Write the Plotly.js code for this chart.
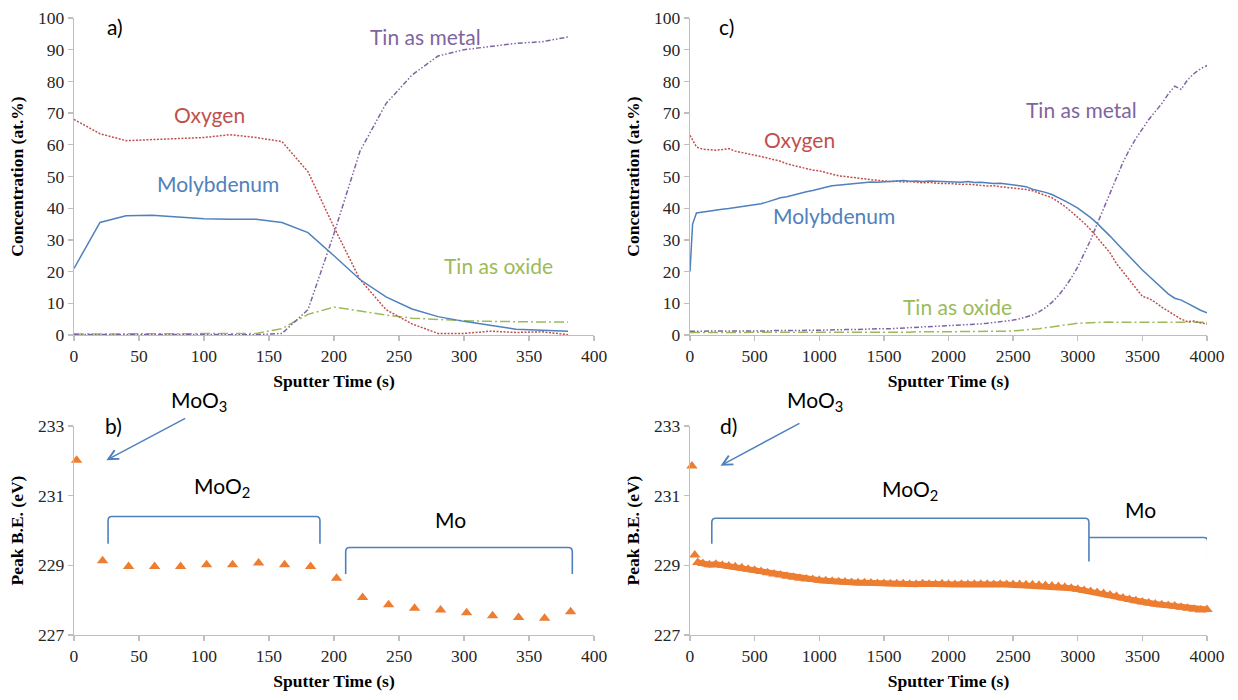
<!DOCTYPE html>
<html>
<head>
<meta charset="utf-8">
<script src="https://cdn.plot.ly/plotly-3.0.1.min.js"></script>
<style>html,body{margin:0;padding:0;background:#fff;}#chart{width:1238px;height:700px;}</style>
</head>
<body>
<div id="chart"></div>
<script>
// ---------- Panel a: short sputter (s) ----------
const timeA = [0,20,40,60,80,100,120,140,160,180,200,220,240,260,280,300,320,340,360,380];
const moA   = [21,35.5,37.6,37.8,37.2,36.7,36.5,36.5,35.5,32.3,25,17.5,12,8.2,5.8,4.3,3.1,1.8,1.5,1.2];
const oxA   = [68,63.5,61.3,61.7,62,62.3,63.2,62.3,61,51.5,34,17.5,8,3.5,0.5,0.5,1.2,0.8,1,0.1];
const snMetalA = [0.2,0.2,0.2,0.2,0.1,0.1,0.1,0.1,0.5,8,32,58,73,82,88,90,91,92,92.5,94];
const snOxideA = [0.3,0.3,0.3,0.3,0.3,0.3,0.3,0.5,2,6.5,8.8,7.5,6.3,5.3,4.8,4.5,4.3,4.1,4.1,4.1];

// ---------- Panel b: peak B.E. (short) ----------
const timeB = [2,22,42,62,82,102,122,142,162,182,202,222,242,262,282,302,322,342,362,382];
const beB   = [232.02,229.13,228.97,228.97,228.97,229.02,229.02,229.07,229.02,228.97,228.63,228.08,227.87,227.77,227.72,227.64,227.55,227.5,227.48,227.67];

// ---------- Panel c: long sputter (s) ----------
const timeC = [0,20,50,100,150,200,250,300,350,400,450,500,550,600,650,700,750,800,850,900,950,1000,1050,1100,1150,1200,1250,1300,1350,1400,1450,1500,1550,1600,1650,1700,1750,1800,1850,1900,1950,2000,2050,2100,2150,2200,2250,2300,2350,2400,2450,2500,2550,2600,2650,2700,2750,2800,2850,2900,2950,3000,3050,3100,3150,3200,3250,3300,3350,3400,3450,3500,3550,3600,3650,3700,3750,3800,3850,3900,3950,4000];
const moC = [20,35,38.5,38.8,39.3,39.4,39.7,39.9,40.2,40.4,40.6,41.0,41.4,42.0,42.6,43.3,43.6,44.2,44.8,45.2,45.6,46.0,46.6,47.1,47.3,47.6,47.9,48.0,48.1,48.3,48.2,48.4,48.5,48.6,48.7,48.5,48.6,48.4,48.6,48.5,48.4,48.5,48.3,48.2,48.4,48.1,48.2,48.0,47.8,47.9,47.6,47.3,47.0,46.8,46.0,45.6,45.0,44.3,43.4,42.3,41.2,40.0,38.5,37.0,35.2,33.3,31.2,29.0,26.8,24.6,22.5,20.5,18.6,16.8,14.8,13.0,11.6,11.0,10.0,8.8,7.8,7.0];
const oxC = [63,61.5,59.3,58.6,58.5,58.3,58.5,58.8,58.0,57.5,57.0,56.7,56.3,55.7,55.3,54.8,54.0,53.5,53.0,52.4,52.0,51.8,51.2,50.6,50.2,50.0,49.7,49.5,49.2,49.0,48.8,48.6,48.4,48.5,48.3,48.4,48.2,48.0,48.1,47.9,47.8,47.8,47.6,47.5,47.6,47.3,47.2,47.0,47.1,46.8,46.6,46.4,46.1,45.9,45.5,44.8,44.2,43.3,42.0,40.6,38.9,37.2,35.3,33.2,30.8,28.4,25.9,22.5,20.0,17.5,15.0,12.2,11.5,10.3,8.8,7.6,6.2,5.0,4.2,4.4,3.8,3.5];
const snMetalC = [1.2,1.2,1.2,1.1,1.2,1.1,1.2,1.1,1.2,1.2,1.3,1.2,1.3,1.3,1.4,1.3,1.4,1.4,1.5,1.4,1.5,1.5,1.6,1.6,1.6,1.7,1.7,1.8,1.8,1.9,1.9,2.0,2.0,2.1,2.1,2.2,2.3,2.4,2.5,2.6,2.7,2.8,2.9,3.0,3.2,3.3,3.5,3.7,3.9,4.1,4.4,4.7,5.1,5.6,6.3,7.3,8.6,10.3,12.4,15.0,18.0,21.5,25.5,30.0,35.0,40.0,45.0,50.0,54.5,58.5,62.0,65.0,68.0,70.5,73.0,76.0,78.5,77.5,80.5,82.5,84.0,85.0];
const snOxideC = [0.8,0.8,0.7,0.7,0.8,0.7,0.7,0.8,0.7,0.7,0.8,0.7,0.8,0.8,0.7,0.8,0.8,0.8,0.7,0.8,0.8,0.8,0.9,0.8,0.8,0.9,0.8,0.9,0.9,0.8,0.9,0.9,0.9,0.9,0.9,0.9,1.0,0.9,1.0,1.0,1.0,1.0,1.0,1.1,1.0,1.1,1.1,1.1,1.2,1.2,1.2,1.3,1.4,1.6,1.8,2.0,2.3,2.6,2.9,3.2,3.5,3.7,3.8,3.9,4.0,4.1,4.1,4.0,4.0,3.9,3.9,3.9,3.9,3.9,4.0,3.9,4.0,4.0,4.0,4.0,4.0,4.0];

// ---------- Panel d: peak B.E. (long) ----------
const timeD = [15,37,60,100,150,200,250,300,350,400,450,500,550,600,650,700,750,800,850,900,950,1000,1050,1100,1150,1200,1250,1300,1350,1400,1450,1500,1550,1600,1650,1700,1750,1800,1850,1900,1950,2000,2050,2100,2150,2200,2250,2300,2350,2400,2450,2500,2550,2600,2650,2700,2750,2800,2850,2900,2950,3000,3050,3100,3150,3200,3250,3300,3350,3400,3450,3500,3550,3600,3650,3700,3750,3800,3850,3900,3950,4000];
const beD = [231.85,229.3,229.08,229.05,229.02,229.03,229.0,228.98,228.96,228.93,228.89,228.86,228.82,228.79,228.75,228.72,228.69,228.66,228.63,228.61,228.59,228.57,228.56,228.54,228.53,228.52,228.51,228.5,228.5,228.49,228.48,228.48,228.47,228.47,228.47,228.46,228.46,228.47,228.46,228.46,228.47,228.46,228.45,228.46,228.45,228.46,228.46,228.46,228.45,228.46,228.45,228.45,228.45,228.44,228.44,228.43,228.42,228.41,228.39,228.37,228.34,228.31,228.28,228.25,228.22,228.19,228.15,228.11,228.06,228.02,227.98,227.95,227.92,227.89,227.87,227.85,227.83,227.8,227.77,227.74,227.72,227.73];

const BLUE = '#4F81BD', RED = '#C0504D', GREEN = '#9BBB59', PURPLE = '#8064A2', ORANGE = '#ED7D31';

function line(x, y, color, dash, xa, ya, name) {
  return {x: x, y: y, type: 'scatter', mode: 'lines', name: name, xaxis: xa, yaxis: ya,
          line: {color: color, width: 1.5, dash: dash}, hoverinfo: 'x+y'};
}

const DOT = '2px,1.5px';
const METAL = '5px,2px,1.5px,2px,1.5px,2px';
const OXIDE = '10px,3px,2px,3px';

// the dense scan of panel d: first two (isolated) spectra, then the continuous run
const nIso = 2;

const traces = [
  line(timeA, snOxideA, GREEN, OXIDE, 'x', 'y', 'Tin as oxide'),
  line(timeA, snMetalA, PURPLE, METAL, 'x', 'y', 'Tin as metal'),
  line(timeA, oxA, RED, DOT, 'x', 'y', 'Oxygen'),
  line(timeA, moA, BLUE, 'solid', 'x', 'y', 'Molybdenum'),
  {x: timeB, y: beB, type: 'scatter', mode: 'markers', xaxis: 'x2', yaxis: 'y2', name: 'Peak B.E.',
   marker: {symbol: 'triangle-up', size: 10, color: ORANGE}, cliponaxis: false},
  line(timeC, snOxideC, GREEN, OXIDE, 'x3', 'y3', 'Tin as oxide'),
  line(timeC, snMetalC, PURPLE, METAL, 'x3', 'y3', 'Tin as metal'),
  line(timeC, oxC, RED, DOT, 'x3', 'y3', 'Oxygen'),
  line(timeC, moC, BLUE, 'solid', 'x3', 'y3', 'Molybdenum'),
  {x: timeD.slice(0, nIso), y: beD.slice(0, nIso), type: 'scatter', mode: 'markers', xaxis: 'x4', yaxis: 'y4',
   name: 'Peak B.E.', marker: {symbol: 'triangle-up', size: 10, color: ORANGE}, cliponaxis: false},
  {x: timeD.slice(nIso), y: beD.slice(nIso), type: 'scatter', mode: 'lines+markers', xaxis: 'x4', yaxis: 'y4',
   name: 'Peak B.E.', line: {color: ORANGE, width: 6}, marker: {symbol: 'triangle-up', size: 10, color: ORANGE},
   cliponaxis: false}
];

const SERIF = 'Liberation Serif, Times New Roman, serif';
const SANS = 'Lato, Open Sans, sans-serif';
const AXC = '#BFBFBF';
const TF = 17.5;

function ax(extra) {
  return Object.assign({
    showline: true, linecolor: AXC, linewidth: 1.3, mirror: false,
    ticks: 'outside', ticklen: 5, tickwidth: 1.3, tickcolor: AXC,
    showgrid: false, zeroline: false, fixedrange: true,
    tickfont: {family: SERIF, size: TF, color: '#262626'}
  }, extra);
}
function xt() { return {text: '<b>Sputter Time (s)</b>', font: {family: SERIF, size: TF, color: '#000'}, standoff: 9}; }
function yt(t) { return {text: '<b>' + t + '</b>', font: {family: SERIF, size: TF, color: '#000'}, standoff: 9}; }

const XA = [0.05977, 0.47981], XC = [0.55735, 0.97496];
const YT = [0.52143, 0.97429], YB = [0.09286, 0.39143];

function lab(x, y, xr, yr, text, color, size) {
  return {x: x, y: y, xref: xr, yref: yr, text: text, showarrow: false,
          font: {family: SANS, size: size || 21, color: color}, xanchor: 'center', yanchor: 'middle'};
}
// labels above the top of the B.E. axes are placed in axis-domain fraction (0 = 227 eV, 1 = 233 eV)
const beFrac = v => (v - 227) / 6;

const annotations = [
  lab(31.8, 97.4, 'x', 'y', 'a)', '#000'),
  lab(270, 94.3, 'x', 'y', 'Tin as metal', PURPLE),
  lab(104.5, 69.5, 'x', 'y', 'Oxygen', RED),
  lab(110.6, 47.7, 'x', 'y', 'Molybdenum', BLUE),
  lab(326.7, 22.0, 'x', 'y', 'Tin as oxide', GREEN),
  lab(286, 97.4, 'x3', 'y3', 'c)', '#000'),
  lab(3026, 71.1, 'x3', 'y3', 'Tin as metal', PURPLE),
  lab(845, 61.7, 'x3', 'y3', 'Oxygen', RED),
  lab(1115, 37.8, 'x3', 'y3', 'Molybdenum', BLUE),
  lab(2068, 9.0, 'x3', 'y3', 'Tin as oxide', GREEN),
  lab(30.4, beFrac(233.02), 'x2', 'y2 domain', 'b)', '#000'),
  lab(95.8, beFrac(233.73), 'x2', 'y2 domain', 'MoO<sub>3</sub>', '#000'),
  lab(113.5, 231.24, 'x2', 'y2', 'MoO<sub>2</sub>', '#000'),
  lab(289.9, 230.32, 'x2', 'y2', 'Mo', '#000'),
  lab(297, beFrac(233.02), 'x4', 'y4 domain', 'd)', '#000'),
  lab(965.5, beFrac(233.71), 'x4', 'y4 domain', 'MoO<sub>3</sub>', '#000'),
  lab(1701, 231.16, 'x4', 'y4', 'MoO<sub>2</sub>', '#000'),
  lab(3488, 230.59, 'x4', 'y4', 'Mo', '#000'),
  {x: 24.9, y: 232.02, ax: 86.7, ay: 233.24, xref: 'x2', yref: 'y2', axref: 'x2', ayref: 'y2',
   text: '', showarrow: true, arrowhead: 5, arrowsize: 1.3, arrowwidth: 1.5, arrowcolor: BLUE},
  {x: 236, y: 231.86, ax: 858, ay: 233.1, xref: 'x4', yref: 'y4', axref: 'x4', ayref: 'y4',
   text: '', showarrow: true, arrowhead: 5, arrowsize: 1.3, arrowwidth: 1.5, arrowcolor: BLUE}
];

const bl = {color: BLUE, width: 1.6};
const shapes = [
  {type: 'path', xref: 'x2', yref: 'y2', line: bl,
   path: 'M 26.2 229.62 L 26.2 230.28 Q 26.2 230.4 29.2 230.4 L 186.2 230.4 Q 189.2 230.4 189.2 230.28 L 189.2 229.62'},
  {type: 'path', xref: 'x2', yref: 'y2', line: bl,
   path: 'M 209 228.75 L 209 229.39 Q 209 229.51 212 229.51 L 380.3 229.51 Q 383.3 229.51 383.3 229.39 L 383.3 228.75'},
  {type: 'path', xref: 'x4', yref: 'y4', line: bl,
   path: 'M 168.6 229.62 L 168.6 230.23 Q 168.6 230.35 199.6 230.35 L 3055.6 230.35 Q 3086.6 230.35 3086.6 230.23 L 3086.6 229.11'},
  {type: 'path', xref: 'x4', yref: 'y4', line: bl,
   path: 'M 3086.6 229.8 L 3975 229.8 Q 4006 229.8 4006 229.68 L 4006 229.11'}
];

const layout = {
  width: 1238, height: 700,
  margin: {l: 0, r: 0, t: 0, b: 0},
  paper_bgcolor: '#fff', plot_bgcolor: '#fff',
  showlegend: false,
  xaxis: ax({domain: XA, anchor: 'y', range: [0, 400], dtick: 50, title: xt()}),
  yaxis: ax({domain: YT, anchor: 'x', range: [0, 100], dtick: 10, title: yt('Concentration (at.%)')}),
  xaxis2: ax({domain: XA, anchor: 'y2', range: [0, 400], dtick: 50, title: xt()}),
  yaxis2: ax({domain: YB, anchor: 'x2', range: [227, 233], tick0: 227, dtick: 2, title: yt('Peak B.E. (eV)')}),
  xaxis3: ax({domain: XC, anchor: 'y3', range: [0, 4000], dtick: 500, title: xt()}),
  yaxis3: ax({domain: YT, anchor: 'x3', range: [0, 100], dtick: 10, title: yt('Concentration (at.%)')}),
  xaxis4: ax({domain: XC, anchor: 'y4', range: [0, 4000], dtick: 500, title: xt()}),
  yaxis4: ax({domain: YB, anchor: 'x4', range: [227, 233], tick0: 227, dtick: 2, title: yt('Peak B.E. (eV)')}),
  annotations: annotations,
  shapes: shapes
};

Plotly.newPlot('chart', traces, layout, {displayModeBar: false, staticPlot: true});
</script>
</body>
</html>
